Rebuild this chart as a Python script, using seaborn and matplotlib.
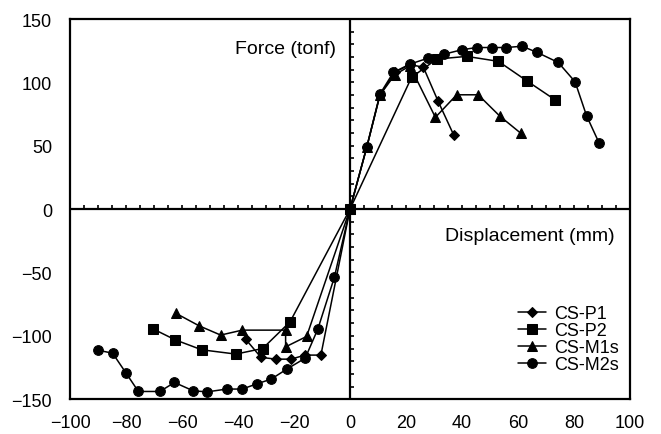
import numpy as np
import pandas as pd
import seaborn as sns
import matplotlib.pyplot as plt

# envelope curves (displacement mm, force tonf)
p1_x = [-37.3, -31.8, -26.4, -21.1, -16.0, -10.4, 0, 6, 10.7, 16, 21.4, 26.2, 31.5, 37]
p1_y = [-102.6, -117, -118.4, -118.4, -115.2, -115.2, 0, 49, 90, 108, 114, 112, 85, 58.7]

p2_x = [-70.2, -62.5, -53, -40.8, -31.2, -21.4, 0, 22, 31, 41.7, 53, 63.1, 73.2]
p2_y = [-94.7, -103.1, -111, -114.4, -110, -88.9, 0, 104, 118.4, 120.5, 116.6, 101.3, 86.3]

m1_x = [-62.3, -53.9, -46.2, -38.5, -23, -23, -15.5, 0, 6, 10.7, 16, 21.4, 30.5, 38.1, 45.8, 53.6, 61.1]
m1_y = [-82.1, -92.1, -99.4, -95.5, -95.5, -108.7, -100.5, 0, 49, 90, 106, 113, 72.4, 90.2, 90.2, 73.2, 59.7]

m2_x = [-90.1, -84.8, -80, -75.6, -67.9, -62.7, -56, -51, -44, -38.5, -33.3, -28.2, -22.6, -16, -11.5, -5.6,
        0, 6, 10.7, 15.5, 21.4, 28, 33.7, 39.9, 45.2, 50.6, 55.7, 61.5, 66.9, 74.4, 80.4, 84.5, 89]
m2_y = [-111.3, -113.7, -129.4, -143.9, -143.9, -136.8, -143.4, -144.2, -142, -142, -137.9, -134.2, -126.3,
        -117.6, -94.7, -53.9, 0, 49, 90.8, 107.9, 114.4, 119.2, 122.3, 125.7, 127.5, 127.5, 127.5, 128.5,
        123.6, 115.7, 100.5, 73.7, 52.1]

names = ['CS-P1', 'CS-P2', 'CS-M1s', 'CS-M2s']
markers = {'CS-P1': 'D', 'CS-P2': 's', 'CS-M1s': '^', 'CS-M2s': 'o'}
msize = {'CS-P1': 5, 'CS-P2': 6.5, 'CS-M1s': 7, 'CS-M2s': 7}

frames = []
for name, xs, ys in zip(names, [p1_x, p2_x, m1_x, m2_x], [p1_y, p2_y, m1_y, m2_y]):
    frames.append(pd.DataFrame({'disp': xs, 'force': ys, 'spec': name}))
df = pd.concat(frames, ignore_index=True)

sns.set_style('white')
plt.rcParams['font.family'] = ['Liberation Sans', 'DejaVu Sans']
plt.rcParams['text.color'] = 'black'

fig = plt.figure(figsize=(6.61, 4.35), dpi=100)
ax = fig.add_axes([0.106, 0.08, 0.847, 0.874])

for name in names:
    sub = df[df['spec'] == name]
    sns.lineplot(data=sub, x='disp', y='force', sort=False, estimator=None, ax=ax,
                 color='black', lw=1.1, marker=markers[name], markersize=msize[name],
                 markeredgecolor='black', markerfacecolor='black', label=name)

ax.set_xlim(-100, 100)
ax.set_ylim(-150, 150)
ax.set_xticks(np.arange(-100, 101, 20))
ax.set_yticks(np.arange(-150, 151, 50))
ax.tick_params(axis='x', length=0, labelsize=13, pad=11, colors='black')
ax.tick_params(axis='y', length=0, labelsize=13, pad=13, colors='black')
ax.set_xlabel('')
ax.set_ylabel('')
for s in ax.spines.values():
    s.set_visible(True)
    s.set_color('black')
    s.set_linewidth(1.6)

# zero axes with their own small ticks
ax.axhline(0, color='black', lw=1.6, zorder=1)
ax.axvline(0, color='black', lw=1.6, zorder=1)
xt = np.arange(-95, 100, 5)
ax.vlines(xt[xt != 0], 0, 3.5, color='black', lw=1.2)
yt = np.arange(-140, 150, 10)
ax.hlines(yt[yt != 0], 0, 1.6, color='black', lw=1.2)

ax.text(-5, 127, 'Force (tonf)', ha='right', va='center', fontsize=14, color='black')
ax.text(94.6, -20.5, 'Displacement (mm)', ha='right', va='center', fontsize=14, color='black')

leg = ax.legend(loc='lower right', bbox_to_anchor=(1.01, 0.025), frameon=False, fontsize=13,
                handlelength=1.5, handletextpad=0.5, labelspacing=0.0)
for t in leg.get_texts():
    t.set_color('black')

fig.savefig('out.png', dpi=100)
